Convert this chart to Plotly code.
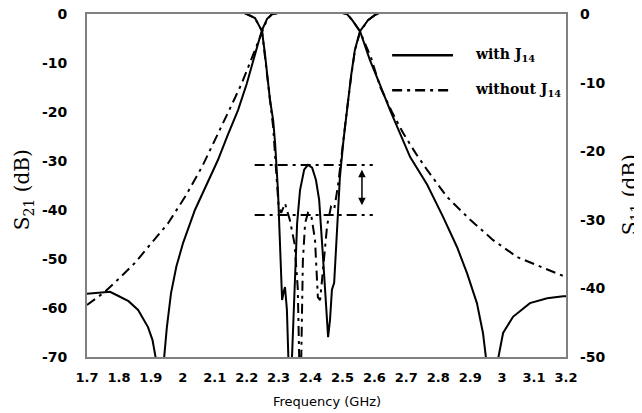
import plotly.graph_objects as go

# ---------------- data ----------------
x_tick_vals = [1.7, 1.8, 1.9, 2.0, 2.1, 2.2, 2.3, 2.4, 2.5, 2.6, 2.7, 2.8, 2.9, 3.0, 3.1, 3.2]
x_tick_text = ["1.7", "1.8", "1.9", "2", "2.1", "2.2", "2.3", "2.4", "2.5", "2.6", "2.7", "2.8", "2.9", "3", "3.1", "3.2"]
y1_tick_vals = [0, -10, -20, -30, -40, -50, -60, -70]
y1_tick_text = ["0", "-10", "-20", "-30", "-40", "-50", "-60", "-70"]
y2_tick_vals = [0, -10, -20, -30, -40, -50]
y2_tick_text = ["0", "-10", "-20", "-30", "-40", "-50"]

# S21 with J14 (left axis)
f_s21_with = [1.700, 1.747, 1.772, 1.797, 1.830, 1.860, 1.891, 1.905, 1.916, 1.927, 1.941, 1.950,
              1.963, 1.980, 2.001, 2.038, 2.075, 2.110, 2.140, 2.173, 2.200, 2.220, 2.235, 2.248,
              2.264, 2.280, 2.300, 2.350, 2.400, 2.450, 2.500, 2.514, 2.530, 2.555, 2.586, 2.618,
              2.649, 2.712, 2.765, 2.815, 2.859, 2.890, 2.921, 2.940, 2.950, 2.968, 2.987, 3.003,
              3.034, 3.087, 3.141, 3.191, 3.200]
s21_with = [-57.1, -56.8, -56.7, -57.5, -58.6, -60.4, -63.9, -66.5, -70.5, -85.0, -70.5, -64.0,
            -57.0, -51.5, -46.7, -40.0, -34.8, -29.8, -24.8, -19.6, -14.3, -9.4, -6.2, -3.3,
            -1.0, 0.0, 0.2, 0.2, 0.2, 0.2, 0.2, 0.0, -1.2, -3.5, -9.4, -14.5,
            -19.6, -29.2, -34.8, -41.4, -47.6, -52.9, -59.0, -65.1, -70.5, -85.0, -70.5, -65.1,
            -61.8, -59.0, -58.0, -57.6, -57.6]

# S21 without J14 (left axis)
f_s21_without = [1.700, 1.756, 1.800, 1.850, 1.900, 1.954, 2.010, 2.060, 2.100, 2.132, 2.160, 2.185,
                 2.217, 2.235, 2.248, 2.264, 2.280, 2.300, 2.350, 2.400, 2.450, 2.500, 2.514, 2.530,
                 2.555, 2.590, 2.618, 2.655, 2.690, 2.730, 2.765, 2.827, 2.900, 2.971, 3.047, 3.119,
                 3.181, 3.200]
s21_without = [-59.4, -56.7, -54.0, -50.8, -46.9, -42.7, -37.0, -31.2, -25.8, -21.6, -17.6, -14.1,
               -8.8, -5.8, -3.4, -1.1, 0.0, 0.2, 0.2, 0.2, 0.2, 0.2, 0.0, -1.2,
               -3.6, -9.0, -14.9, -20.0, -24.3, -28.5, -31.8, -37.3, -42.0, -46.1, -49.6, -51.6,
               -53.3, -53.7]

# S11 with J14 (right axis)
f_s11_with = [2.190, 2.201, 2.226, 2.248, 2.257, 2.273, 2.283, 2.289, 2.298, 2.304, 2.308, 2.311,
              2.316, 2.320, 2.326, 2.333, 2.337, 2.342, 2.348, 2.358, 2.367, 2.380, 2.392, 2.405,
              2.417, 2.427, 2.439, 2.449, 2.455, 2.461, 2.467, 2.474, 2.483, 2.492, 2.503, 2.514,
              2.527, 2.539, 2.555, 2.580, 2.600, 2.618]
s11_with = [0.2, 0.0, -0.6, -2.5, -5.7, -12.5, -15.5, -18.8, -25.7, -34.4, -38.8, -41.7,
            -40.5, -39.8, -43.1, -50.0, -60.0, -50.0, -41.7, -30.5, -25.7, -22.7, -22.0, -22.4,
            -24.2, -27.1, -35.4, -43.1, -47.1, -44.6, -40.2, -39.2, -30.5, -23.8, -18.5, -14.0,
            -9.0, -5.2, -2.5, -0.9, -0.2, 0.2]

# S11 without J14 (right axis)
f_s11_without = [2.190, 2.226, 2.248, 2.257, 2.273, 2.283, 2.292, 2.300, 2.308, 2.320, 2.335, 2.350,
                 2.360, 2.365, 2.368, 2.371, 2.376, 2.383, 2.392, 2.402, 2.414, 2.423, 2.430, 2.439,
                 2.452, 2.464, 2.474, 2.486, 2.495, 2.505, 2.514, 2.527, 2.539, 2.555, 2.580, 2.600,
                 2.618]
s11_without = [0.2, -0.6, -2.5, -5.9, -12.8, -16.5, -22.7, -28.0, -29.0, -27.6, -30.0, -33.5,
               -40.0, -50.0, -58.0, -50.0, -36.0, -30.5, -29.0, -29.3, -32.9, -41.3, -41.7, -37.3,
               -30.8, -28.1, -28.5, -25.0, -21.3, -17.5, -14.0, -9.2, -5.3, -2.6, -0.9, -0.2,
               0.2]

# improvement marker (right axis levels)
marker_x = [2.225, 2.595]
marker_levels = [-22.0, -29.3]
arrow_x = 2.561
arrow_span = [-22.7, -28.1]

legend_labels = ["with J<sub>14</sub>", "without J<sub>14</sub>"]

# ---------------- figure ----------------
DASHDOT = "10px,5px,3px,5px"
fig = go.Figure()

fig.add_trace(go.Scatter(x=f_s11_without, y=s11_without, yaxis="y2", mode="lines",
                         line=dict(color="black", width=2, dash=DASHDOT), showlegend=False))
fig.add_trace(go.Scatter(x=f_s21_without, y=s21_without, mode="lines",
                         line=dict(color="black", width=2, dash=DASHDOT), showlegend=False))
fig.add_trace(go.Scatter(x=f_s11_with, y=s11_with, yaxis="y2", mode="lines",
                         line=dict(color="black", width=2), showlegend=False))
fig.add_trace(go.Scatter(x=f_s21_with, y=s21_with, mode="lines",
                         line=dict(color="black", width=2), showlegend=False))

for lvl in marker_levels:
    fig.add_trace(go.Scatter(x=marker_x, y=[lvl, lvl], yaxis="y2", mode="lines",
                             line=dict(color="black", width=2, dash=DASHDOT), showlegend=False))

fig.add_annotation(x=arrow_x, y=arrow_span[0], ax=arrow_x, ay=arrow_span[1],
                   xref="x", yref="y2", axref="x", ayref="y2", text="",
                   showarrow=True, arrowhead=2, startarrowhead=2, arrowside="end+start",
                   arrowwidth=1.5, arrowsize=1, startarrowsize=1, arrowcolor="black")

# legend (drawn manually)
legend_y = [0.880, 0.778]
legend_dash = ["solid", DASHDOT]
for yy, dd, lab in zip(legend_y, legend_dash, legend_labels):
    fig.add_shape(type="line", xref="paper", yref="paper", x0=0.637, x1=0.764, y0=yy, y1=yy,
                  line=dict(color="black", width=2.5, dash=dd))
    fig.add_annotation(xref="paper", yref="paper", x=0.806, y=yy, xanchor="left", yanchor="middle",
                       text=lab, showarrow=False,
                       font=dict(family="DejaVu Serif", size=14, color="black", weight="bold"))

# axis titles
fig.add_annotation(xref="paper", yref="paper", x=-0.133, y=0.487, text="S<sub>21</sub> (dB)",
                   textangle=-90, showarrow=False, xanchor="center", yanchor="middle",
                   font=dict(family="DejaVu Serif", size=20, color="black"))
fig.add_annotation(xref="paper", yref="paper", x=1.136, y=0.472, text="S<sub>11</sub> (dB)",
                   textangle=-90, showarrow=False, xanchor="center", yanchor="middle",
                   font=dict(family="DejaVu Serif", size=20, color="black"))
fig.add_annotation(xref="paper", yref="paper", x=0.5, y=-0.131, text="Frequency (GHz)",
                   showarrow=False, xanchor="center", yanchor="middle",
                   font=dict(family="DejaVu Sans", size=13, color="black"))

frame = "#808080"
fig.update_layout(
    width=634, height=405,
    margin=dict(l=79, r=76, t=6, b=56, autoexpand=False),
    paper_bgcolor="white", plot_bgcolor="white",
    showlegend=False,
    xaxis=dict(range=[1.7, 3.2], tickvals=x_tick_vals, ticktext=x_tick_text,
               showgrid=False, zeroline=False, showline=True, mirror=True,
               linecolor=frame, linewidth=2, ticks="", ticklabelstandoff=7,
               ticklabeloverflow="allow",
               tickfont=dict(family="DejaVu Sans", size=13, color="black", weight="bold")),
    yaxis=dict(range=[-70, 0], tickvals=y1_tick_vals, ticktext=y1_tick_text,
               showgrid=False, zeroline=False, showline=True, mirror=True,
               linecolor=frame, linewidth=2, ticks="", ticklabelstandoff=15,
               ticklabeloverflow="allow",
               tickfont=dict(family="DejaVu Sans", size=14, color="black", weight="bold")),
    yaxis2=dict(range=[-50, 0], tickvals=y2_tick_vals, ticktext=y2_tick_text,
                overlaying="y", side="right", showgrid=False, zeroline=False,
                showline=False, ticks="", ticklabelstandoff=13,
                ticklabeloverflow="allow",
                tickfont=dict(family="DejaVu Sans", size=14, color="black", weight="bold")),
)

fig.write_html("out.html")
